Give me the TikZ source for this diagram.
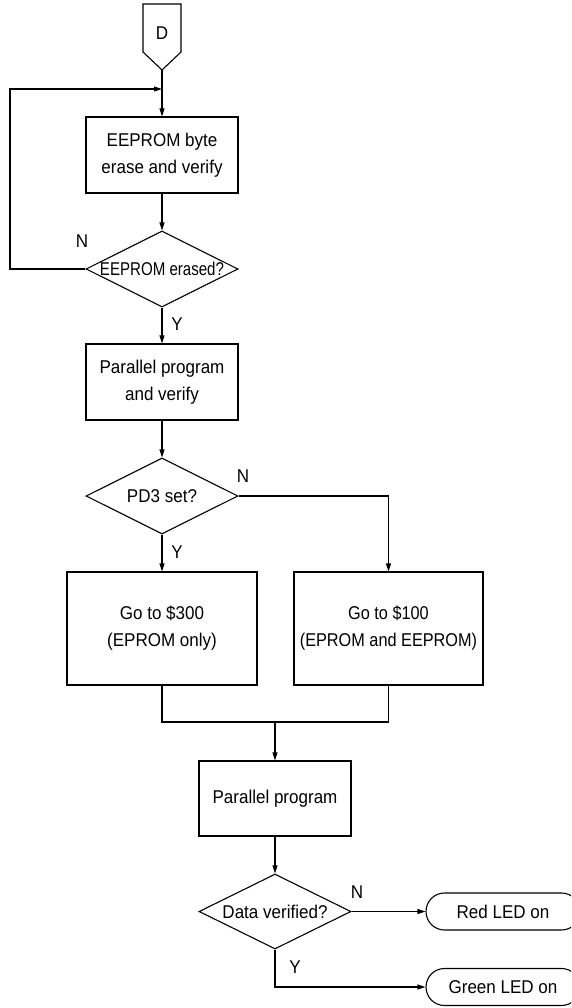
\documentclass[tikz,border=0pt]{standalone}
\usepackage{fontspec}
\setmainfont[FakeStretch=0.92]{Liberation Sans}
\newfontfamily\narrowfont[FakeStretch=0.815]{Liberation Sans}
\newfontfamily\slightnarrow[FakeStretch=0.88]{Liberation Sans}
\usetikzlibrary{arrows.meta,shapes.geometric,shapes.misc}
\begin{document}
\begin{tikzpicture}[x=1pt,y=-1pt,
  line width=1.1pt,
  font=\fontsize{18.5}{27}\selectfont,
  box/.style={draw,rectangle,align=center,inner sep=0pt},
  dec/.style={draw,diamond,minimum width=152pt,minimum height=76pt,inner sep=0pt},
  term/.style={draw,rounded rectangle,minimum width=154pt,minimum height=37pt,inner sep=0pt},
  arr/.style={-{Triangle[length=8pt,width=5pt]}},
  lbl/.style={inner sep=0pt}]
\useasboundingbox (0,0) rectangle (571,1008);
\clip (0,0) rectangle (571,1008);
\fill[white] (0,0) rectangle (571,1008);
% off-page connector
\draw (143,4) -- (181,4) -- (181,52) -- (162,70) -- (143,52) -- cycle;
\node[lbl] (D) at (162,33) {D};
\coordinate (Dtip) at (162,70);
\node[box,minimum width=152pt,minimum height=76pt] (b1) at (162,155) {EEPROM byte\\erase and verify};
\node[dec,label={[font=\fontsize{18.5}{27}\narrowfont]center:EEPROM erased?}] (d1) at (162,269) {};
\node[box,minimum width=152pt,minimum height=76pt] (b2) at (162,382) {Parallel program\\and verify};
\node[dec,label=center:PD3 set?] (d2) at (162,496) {};
\node[box,minimum width=190pt,minimum height=113pt] (b3) at (162,628.5) {Go to \$300\\(EPROM only)};
\node[box,minimum width=189pt,minimum height=113pt,font=\fontsize{18.5}{27}\slightnarrow] (b4) at (388.5,628.5) {Go to \$100\\(EPROM and EEPROM)};
\node[box,minimum width=152pt,minimum height=75pt] (b5) at (275,798.5) {Parallel program};
\node[dec,minimum width=152pt,minimum height=75pt,label=center:Data verified?] (d3) at (275,911.5) {};
\node[term] (red) at (503,911.5) {Red LED on};
\node[term] (green) at (503,987) {Green LED on};
% connectors
\coordinate (loopin) at (162,89);
\draw[arr] (Dtip) -- (b1.north);
\draw[arr] (b1.south) -- (d1.north);
\draw[arr] (d1.west) -- (10,269) -- (10,89) -- (loopin);
\draw[arr] (d1.south) -- (b2.north);
\draw[arr] (b2.south) -- (d2.north);
\draw[arr] (d2.south) -- (b3.north);
\draw[arr] (d2.east) -| (b4.north);
\coordinate (join) at (275,722);
\draw (b3.south) |- (join) -| (b4.south);
\draw[arr] (join) -- (b5.north);
\draw[arr] (b5.south) -- (d3.north);
\draw[arr] (d3.east) -- (red.west);
\draw[arr] (d3.south) |- (green.west);
% labels
\node[lbl] (n1) at (82,241) {N};
\node[lbl] (y1) at (177,324) {Y};
\node[lbl] (n2) at (243,476) {N};
\node[lbl] (y2) at (177,552) {Y};
\node[lbl] (n3) at (357,892) {N};
\node[lbl] (y3) at (295,967) {Y};
\end{tikzpicture}
\end{document}
